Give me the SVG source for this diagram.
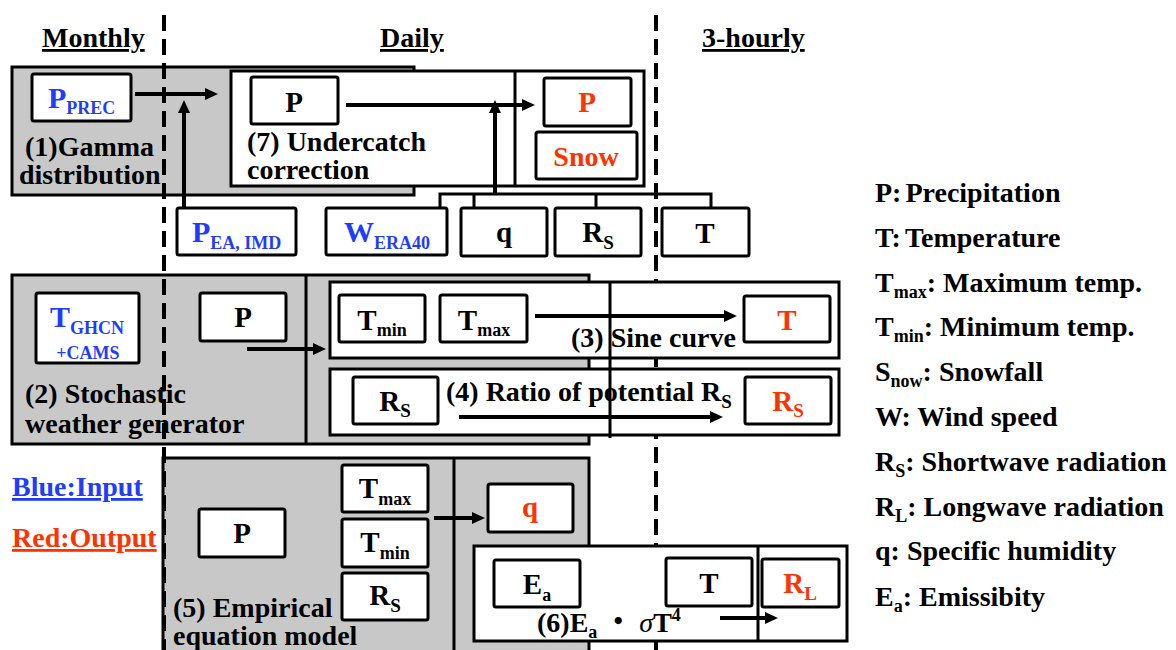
<svg xmlns="http://www.w3.org/2000/svg" width="1176" height="650" viewBox="0 0 1176 650">
<defs>
<style>
.t{font-family:"Liberation Serif","Noto Sans CJK JP",serif;font-weight:bold;fill:#000}
.h{font-size:28px;text-decoration:underline}
.lab{font-size:28px}
.n{font-size:29px;text-anchor:middle}
.s{font-size:19px}
.blue{fill:#1f3dff}
.red{fill:#ff3300}
.gb{fill:#c8c8c8;stroke:#000;stroke-width:3}
.wb{fill:#fff;stroke:#000;stroke-width:3}
.nb{fill:#fff;stroke:#000;stroke-width:3}
.ln{stroke:#000;stroke-width:3;fill:none}
.ar{stroke:#000;stroke-width:4;fill:none;marker-end:url(#ah)}
.dash{stroke:#000;stroke-width:4;stroke-dasharray:16 8;fill:none}
</style>
<marker id="ah" markerUnits="userSpaceOnUse" markerWidth="14" markerHeight="14" refX="1" refY="6" orient="auto"><path d="M0,0 L13,6 L0,12 z" fill="#000"/></marker>
</defs>
<rect width="1176" height="650" fill="#fff"/>

<!-- headers -->
<g id="headers" class="t">
<text class="h" x="42" y="47">Monthly</text>
<text class="h" x="380" y="47">Daily</text>
<text class="h" x="702" y="47">3-hourly</text>
</g>

<!-- right divider (behind boxes) -->
<line id="divider-3h" class="dash" x1="656" y1="15" x2="656" y2="650"/>

<!-- (1) Gamma distribution -->
<g id="box1">
<rect class="gb" x="12" y="67" width="402" height="128"/>
<text class="t lab" x="25" y="156">(1)Gamma</text>
<text class="t lab" x="19" y="184">distribution</text>
</g>
<g id="p-prec">
<rect class="nb" x="32" y="74" width="99" height="47" rx="2"/>
<text class="t blue" x="48" y="108" font-size="30">P<tspan font-size="18" dy="6">PREC</tspan></text>
</g>

<!-- (7) Undercatch correction -->
<g id="box7">
<rect class="wb" x="231" y="71" width="413" height="115"/>
<line class="ln" x1="515" y1="71" x2="515" y2="186"/>
<text class="t lab" x="247" y="151">(7) Undercatch</text>
<text class="t lab" x="247" y="179">correction</text>
</g>
<g id="p7"><rect class="nb" x="251" y="77" width="87" height="47" rx="2"/><text class="t n" x="294" y="112">P</text></g>
<g id="p-out"><rect class="nb" x="544" y="78" width="87" height="48" rx="2"/><text class="t n red" x="587" y="112">P</text></g>
<g id="snow-out"><rect class="nb" x="536" y="132" width="101" height="47" rx="2"/><text class="t red" x="586" y="166" font-size="28" text-anchor="middle">Snow</text></g>

<!-- inputs row -->
<g id="p-ea"><rect class="nb" x="177" y="208" width="119" height="47" rx="2"/><text class="t blue" x="192" y="242" font-size="30">P<tspan font-size="18" dy="7">EA, IMD</tspan></text></g>
<g id="w-era"><rect class="nb" x="326" y="208" width="121" height="47" rx="2"/><text class="t blue" x="344" y="242" font-size="30">W<tspan font-size="18" dy="7">ERA40</tspan></text></g>
<g id="q-in"><rect class="nb" x="461" y="208" width="86" height="48" rx="2"/><text class="t n" x="504" y="242">q</text></g>
<g id="rs-in"><rect class="nb" x="555" y="208" width="86" height="48" rx="2"/><text class="t n" x="598" y="242">R<tspan class="s" dy="7">S</tspan></text></g>
<g id="t-in"><rect class="nb" x="662" y="208" width="87" height="48" rx="2"/><text class="t n" x="705" y="243">T</text></g>

<!-- (2) Stochastic weather generator -->
<g id="box2">
<rect class="gb" x="12" y="275" width="577" height="169"/>
<line class="ln" x1="306" y1="275" x2="306" y2="444"/>
<text class="t lab" x="25" y="403">(2) Stochastic</text>
<text class="t lab" x="25" y="433">weather generator</text>
</g>
<g id="t-ghcn">
<rect class="nb" x="36" y="293" width="103" height="70" rx="2"/>
<text class="t blue" x="50" y="327" font-size="30">T<tspan font-size="18" dy="7">GHCN</tspan></text>
<text class="t blue" x="88" y="359" font-size="18" text-anchor="middle">+CAMS</text>
</g>
<g id="p2"><rect class="nb" x="200" y="293" width="86" height="48" rx="2"/><text class="t n" x="243" y="327">P</text></g>

<!-- (3) Sine curve -->
<g id="box3">
<rect class="wb" x="330" y="282" width="509" height="76"/>
</g>
<!-- (4) Ratio of potential Rs -->
<g id="box4">
<rect class="wb" x="330" y="369" width="509" height="66"/>
</g>
<line id="divider-34" class="ln" x1="610" y1="281" x2="610" y2="438"/>
<g id="tmin2"><rect class="nb" x="339" y="295" width="86" height="47" rx="2"/><text class="t n" x="382" y="330">T<tspan font-size="18" dy="6">min</tspan></text></g>
<g id="tmax2"><rect class="nb" x="440" y="295" width="87" height="47" rx="2"/><text class="t n" x="484" y="330">T<tspan font-size="18" dy="6">max</tspan></text></g>
<g id="t-out"><rect class="nb" x="744" y="296" width="86" height="46" rx="2"/><text class="t n red" x="787" y="330">T</text></g>
<g id="rs2"><rect class="nb" x="353" y="377" width="85" height="47" rx="2"/><text class="t n" x="395" y="411">R<tspan class="s" dy="6">S</tspan></text></g>
<g id="rs-out"><rect class="nb" x="745" y="377" width="86" height="47" rx="2"/><text class="t n red" x="788" y="411">R<tspan class="s" dy="6">S</tspan></text></g>

<!-- (5) Empirical equation model -->
<g id="box5">
<rect class="gb" x="163" y="458" width="426" height="200"/>
<line class="ln" x1="454" y1="458" x2="454" y2="650"/>
<text class="t lab" x="173" y="617">(5) Empirical</text>
<text class="t lab" x="173" y="645">equation model</text>
</g>
<g id="p5"><rect class="nb" x="199" y="509" width="86" height="48" rx="2"/><text class="t n" x="242" y="543">P</text></g>
<g id="tmax5"><rect class="nb" x="342" y="465" width="86" height="47" rx="2"/><text class="t n" x="385" y="498">T<tspan font-size="18" dy="7">max</tspan></text></g>
<g id="tmin5"><rect class="nb" x="342" y="519" width="86" height="48" rx="2"/><text class="t n" x="385" y="552">T<tspan font-size="18" dy="7">min</tspan></text></g>
<g id="rs5"><rect class="nb" x="342" y="573" width="86" height="47" rx="2"/><text class="t n" x="385" y="605">R<tspan class="s" dy="7">S</tspan></text></g>
<g id="q-out"><rect class="nb" x="488" y="484" width="85" height="48" rx="2"/><text class="t n red" x="530" y="517">q</text></g>

<!-- (6) Ea sigma T^4 -->
<g id="box6">
<rect class="wb" x="474" y="546" width="373" height="95"/>
<line class="ln" x1="758" y1="546" x2="758" y2="641"/>
</g>
<g id="ea"><rect class="nb" x="494" y="560" width="86" height="47" rx="2"/><text class="t n" x="537" y="594">E<tspan font-size="18" dy="7">a</tspan></text></g>
<g id="t6"><rect class="nb" x="666" y="558" width="86" height="48" rx="2"/><text class="t n" x="709" y="593">T</text></g>
<g id="rl-out"><rect class="nb" x="762" y="559" width="77" height="48" rx="2"/><text class="t n red" x="800" y="593">R<tspan class="s" dy="7">L</tspan></text></g>

<!-- left divider (on top of gray boxes) -->
<line id="divider-md" class="dash" x1="164" y1="15" x2="164" y2="650"/>

<!-- connectors -->
<g id="connectors">
<line class="ar" x1="135" y1="94" x2="206" y2="94"/>
<line class="ar" x1="184" y1="208" x2="184" y2="112"/>
<line class="ar" x1="346" y1="105" x2="523" y2="105"/>
<path class="ln" d="M440,208 V194 H711 V208 M474,194 V208 M596,194 V208"/>
<line class="ar" x1="495" y1="194" x2="495" y2="112"/>
<line class="ar" x1="247" y1="349" x2="314" y2="349"/>
<line class="ar" x1="535" y1="316" x2="725" y2="316"/>
<line class="ar" x1="459" y1="417" x2="711" y2="417"/>
<line class="ar" x1="434" y1="518" x2="473" y2="518"/>
<line class="ar" x1="720" y1="618" x2="766" y2="618"/>
</g>

<!-- process labels over lines -->
<g id="labels" class="t lab">
<text x="571" y="347">(3) Sine curve</text>
<text x="446" y="401">(4) Ratio of potential R<tspan class="s" dy="7">S</tspan></text>
<text x="537" y="632">(6)E<tspan font-size="18" dy="6">a</tspan><tspan dy="-6"> ・ </tspan><tspan font-style="italic" font-weight="normal">σ</tspan><tspan>T</tspan><tspan font-size="18" dy="-11">4</tspan></text>
</g>

<!-- colour key -->
<g id="key" class="t">
<text class="h blue" x="12" y="496">Blue:Input</text>
<text class="h red" x="12" y="547">Red:Output</text>
</g>

<!-- legend -->
<g id="legend" class="t lab">
<text x="875" y="202">P:<tspan dx="4">Precipitation</tspan></text>
<text x="875" y="247">T:<tspan dx="4">Temperature</tspan></text>
<text x="875" y="292">T<tspan font-size="18" dy="6">max</tspan><tspan dy="-6">: Maximum temp.</tspan></text>
<text x="875" y="336">T<tspan font-size="18" dy="6">min</tspan><tspan dy="-6">: Minimum temp.</tspan></text>
<text x="875" y="381">S<tspan font-size="18" dy="6">now</tspan><tspan dy="-6">: Snowfall</tspan></text>
<text x="875" y="426">W: Wind speed</text>
<text x="875" y="471">R<tspan font-size="18" dy="6">S</tspan><tspan dy="-6">: Shortwave radiation</tspan></text>
<text x="875" y="516">R<tspan font-size="18" dy="6">L</tspan><tspan dy="-6">: Longwave radiation</tspan></text>
<text x="875" y="560">q: Specific humidity</text>
<text x="875" y="606">E<tspan font-size="18" dy="6">a</tspan><tspan dy="-6">: Emissibity</tspan></text>
</g>
</svg>
